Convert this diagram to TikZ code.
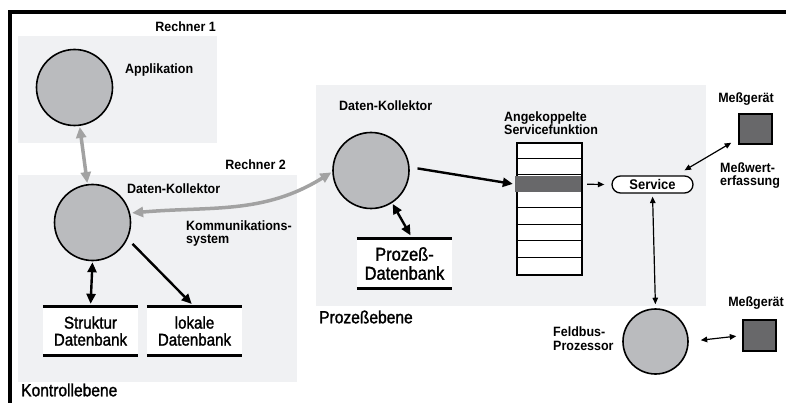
\documentclass[tikz,border=0pt]{standalone}
\usepackage{fontspec}
\setmainfont{Liberation Sans}
\newfontfamily\lblfont{Liberation Sans}[FakeStretch=0.925]
\newfontfamily\bigfont{Liberation Sans}[FakeStretch=0.89, FakeBold=1.5]
\usetikzlibrary{arrows.meta,shapes.misc}

\definecolor{panelgray}{HTML}{F0F1F3}
\definecolor{circgray}{HTML}{BABBBE}
\definecolor{arrgray}{HTML}{A2A2A2}
\definecolor{devgray}{HTML}{68686A}

\tikzset{
  panel/.style={fill=panelgray, draw=none},
  proc/.style={circle, draw=black, line width=1.6pt, fill=circgray, minimum size=#1, inner sep=0pt},
  lbl/.style={font=\lblfont\bfseries\fontsize{13.5}{13}\selectfont, inner sep=0pt},
  biglbl/.style={font=\bigfont\fontsize{17.5}{17}\selectfont, inner sep=0pt},
  dbase/.style={rectangle, fill=white, draw=none, minimum width=95pt, minimum height=#1,
                align=center, inner sep=0pt, font=\bigfont\fontsize{17}{17}\selectfont},
  dbline/.style={line width=3pt, black},
  grayarrow/.style={line width=3.5pt, draw=arrgray, {Triangle[length=11pt,width=10pt]}-{Triangle[length=11pt,width=10pt]}},
  blk/.style={line width=2.4pt, black, -{Triangle[length=10pt,width=9pt]}},
  blkboth/.style={line width=2.4pt, black, {Triangle[length=10pt,width=9pt]}-{Triangle[length=10pt,width=9pt]}},
  thin/.style={line width=1.2pt, black, -{Triangle[length=6.5pt,width=5.5pt]}},
  thinboth/.style={line width=1.2pt, black, {Triangle[length=6.5pt,width=5.5pt]}-{Triangle[length=6.5pt,width=5.5pt]}},
  device/.style={rectangle, draw=black, line width=1.5pt, fill=devgray, inner sep=0pt},
  rowline/.style={line width=1pt, black},
}

\begin{document}
\begin{tikzpicture}[x=1pt,y=-1pt]
\useasboundingbox (0,0) rectangle (786,403);

% outer frame: top and left edges only
\draw[line width=4pt] (786,12.5) -- (8,12.5);
\draw[line width=4pt] (9.5,10.5) -- (9.5,403);

% computer / level panels
\fill[panel] (18,36) rectangle (217,143);
\fill[panel] (18,175) rectangle (297,382);
\fill[panel] (316,85) rectangle (706,306);

% panel titles
\node[lbl, anchor=east] (r1) at (216,27) {Rechner 1};
\node[lbl, anchor=east] (r2) at (286,165) {Rechner 2};
\node[biglbl, anchor=west] (kon) at (21,390) {Kontrollebene};
\node[biglbl, anchor=west] (pro) at (319,317) {Prozeßebene};

% processes
\node[proc=76pt] (app) at (74.5,87.5) {};
\node[lbl, anchor=west] (appl) at (125,70) {Applikation};

\node[proc=76pt] (dk1) at (92.5,222.5) {};
\node[lbl, anchor=west] (dk1l) at (127,189) {Daten-Kollektor};

\node[proc=76pt] (dk2) at (371,170.5) {};
\node[lbl, anchor=west] (dk2l) at (339,106) {Daten-Kollektor};

\node[proc=65pt] (fb) at (655.5,341.5) {};
\node[lbl, anchor=west, align=left, font=\lblfont\bfseries\fontsize{13.5}{14}\selectfont] (fbl) at (553,339) {Feldbus-\\Prozessor};

% communication label
\node[lbl, anchor=west, align=left] (kom) at (186,233.5) {Kommunikations-\\system};

% data stores
\node[dbase=48pt] (sdb) at (90.5,331) {Struktur\\Datenbank};
\node[dbase=48pt] (ldb) at (194.5,331) {lokale\\Datenbank};
\node[dbase=49pt, font=\bigfont\fontsize{18.5}{19}\selectfont] (pdb) at (404.5,263.5) {Prozeß-\\Datenbank};
\foreach \d in {sdb,ldb,pdb}{
  \draw[dbline] (\d.north west) -- (\d.north east);
  \draw[dbline] (\d.south west) -- (\d.south east);
}

% coupled service function table
\node[lbl, anchor=west, align=left] (angl) at (504,123.5) {Angekoppelte\\Servicefunktion};
\node[rectangle, draw=black, line width=2.5pt, fill=white, minimum width=65pt,
      minimum height=132pt, inner sep=0pt] (tab) at (549.5,209) {};
\foreach \k in {1,...,7}
  \draw[rowline] ([yshift=-16.5*\k pt]tab.north west) -- ([yshift=-16.5*\k pt]tab.north east);
\node[rectangle, fill=devgray, draw=none, minimum width=66pt, minimum height=15.5pt,
      inner sep=0pt] (slot) at (548,184.25) {};

% service
\node[rounded rectangle, draw=black, line width=1.3pt, fill=white, minimum width=81pt,
      minimum height=17pt, inner sep=0pt, font=\lblfont\bfseries\fontsize{14}{13}\selectfont] (srv) at (652.5,184.5) {Service};

% measuring devices
\node[device, minimum width=33pt, minimum height=30pt] (m1) at (755.5,129) {};
\node[lbl] (m1l) at (746,99) {Meßgerät};
\node[device, minimum width=33pt, minimum height=31pt] (m2) at (759.5,335.5) {};
\node[lbl] (m2l) at (756,303) {Meßgerät};
\node[lbl, anchor=west, align=left] (mw) at (720,175.5) {Meßwert-\\erfassung};

% connectors
\draw[grayarrow, shorten <=1pt, shorten >=1pt] (app) -- (dk1);
\draw[grayarrow, shorten <=2pt, shorten >=1pt] (dk1.14) to[out=5, in=212] (dk2.182);
\draw[blkboth, shorten <=1pt, shorten >=3pt] (dk1.south) -- (sdb.north);
\draw[blk, shorten <=7pt, shorten >=4pt] (dk1.-25) -- (ldb.north);
\draw[blkboth, shorten <=1pt, shorten >=4pt] (dk2.-57) -- ([xshift=8pt]pdb.north);
\draw[blk, shorten <=8pt, shorten >=2pt] (dk2.5) -- (slot.west);
\draw[thin] ([xshift=6pt]slot.east) -- ([xshift=-7pt]srv.west);
\draw[thinboth, shorten <=3pt, shorten >=4pt] (srv.south) -- (fb.north);
\draw[thinboth] ([xshift=-7pt,yshift=2pt]m1.south west) -- ([yshift=5pt]srv.north east);
\draw[thinboth, shorten <=12pt, shorten >=6pt] (fb.east) -- (m2.west);
\end{tikzpicture}
\end{document}
